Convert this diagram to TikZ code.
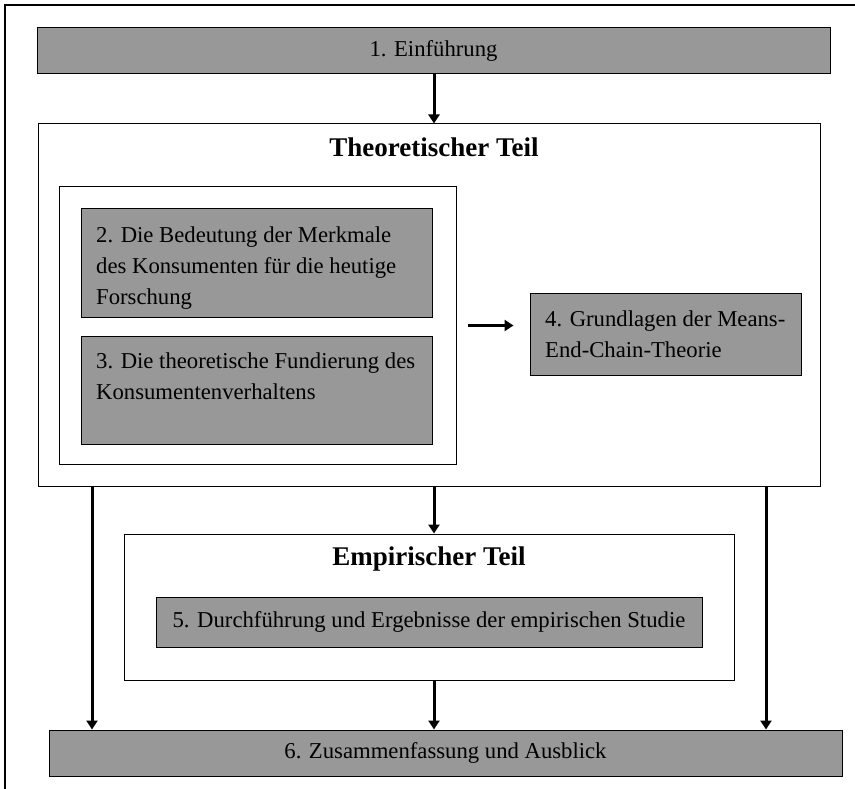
\documentclass[tikz,border=0pt]{standalone}
\usepackage{fontspec}
\setmainfont{Liberation Serif}
\usetikzlibrary{arrows.meta}
\definecolor{boxgrey}{RGB}{152,152,152}

\begin{document}
\begin{tikzpicture}[x=1pt,y=-1pt,
        greybox/.style={draw,line width=1pt,fill=boxgrey,inner sep=0pt},
        framebox/.style={draw,line width=1pt,fill=white,inner sep=0pt},
        txt/.style={font=\fontsize{22.7}{31}\selectfont,inner sep=0pt},
        head/.style={font=\fontsize{27}{32}\selectfont\bfseries,inner sep=0pt},
        arr/.style={-{Triangle[length=9pt,width=11pt]},line width=3pt}]
        \useasboundingbox(0,0)rectangle(855,789);
        \draw[line width=1.5pt](5,789)--(5,5)--(855,5);

        \node[greybox,txt,minimum width=793pt,minimum height=46pt](einf)at(433.5,51){1. Einführung};

        % theoretischer Teil
        \node[framebox,minimum width=782pt,minimum height=362pt](theorie)at(429,305){};
        \node[head](theorietitel)at(434,147){Theoretischer Teil};
        \node[framebox,minimum width=397pt,minimum height=277pt](innen)at(257.5,325.5){};
        \node[greybox,minimum width=351pt,minimum height=108pt](kap2)at(256.5,263){};
        \node[txt,align=left,anchor=north west](kap2txt)at(96,227){2. Die Bedeutung der Merkmale\\des Konsumenten für die heutige\\Forschung};
        \node[greybox,minimum width=351pt,minimum height=108pt](kap3)at(256.5,390){};
        \node[txt,align=left,anchor=north west](kap3txt)at(96,353){3. Die theoretische Fundierung des\\Konsumentenverhaltens};
        \node[greybox,minimum width=271pt,minimum height=82pt](kap4)at(665.5,334){};
        \node[txt,align=left,anchor=north west](kap4txt)at(545,311){4. Grundlagen der Means-\\End-Chain-Theorie};

        % empirischer Teil
        \node[framebox,minimum width=610pt,minimum height=146pt](empirie)at(429,607){};
        \node[head](empirietitel)at(429,559){Empirischer Teil};
        \node[greybox,txt,minimum width=546pt,minimum height=50pt](kap5)at(429,622){5. Durchführung und Ergebnisse der empirischen Studie};

        \node[greybox,txt,minimum width=793pt,minimum height=46pt](kap6)at(445.5,753){6. Zusammenfassung und Ausblick};

        \coordinate(links)at(92,0);
        \coordinate(mitte)at(434,0);
        \coordinate(rechts)at(766,0);

        \draw[arr](einf.south-|mitte)--(theorie.north-|mitte);
        \draw[arr,shorten <=11pt,shorten >=16pt](innen.east)--(innen.east-|kap4.west);
        \draw[arr](theorie.south-|mitte)--(empirie.north-|mitte);
        \draw[arr](theorie.south-|links)--(kap6.north-|links);
        \draw[arr](theorie.south-|rechts)--(kap6.north-|rechts);
        \draw[arr](empirie.south-|mitte)--(kap6.north-|mitte);

    \end{tikzpicture}
\end{document}
